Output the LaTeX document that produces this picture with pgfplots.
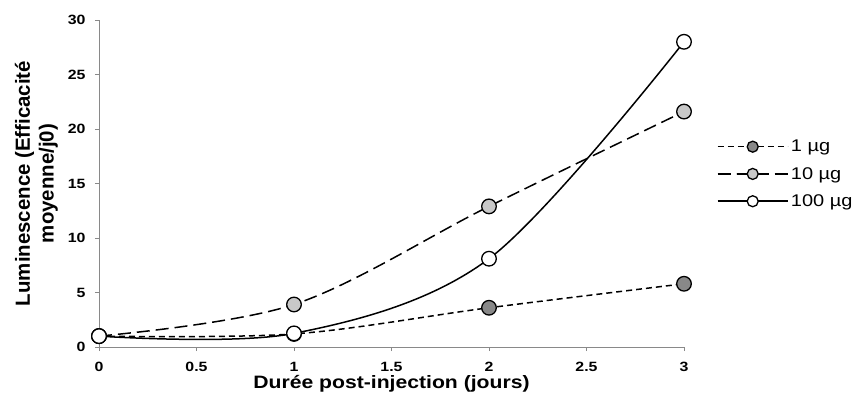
\documentclass[border=0pt]{standalone}
\usepackage{fontspec}
\setmainfont{Liberation Sans}[FakeStretch=1.18]
\newfontfamily\ylabfont{Liberation Sans}
\usepackage{pgfplots}
\pgfplotsset{compat=1.18}
\definecolor{axgray}{HTML}{898989}
\definecolor{fillA}{HTML}{888888}
\definecolor{fillB}{HTML}{C8C8C8}
\begin{document}
\begin{tikzpicture}
\begin{axis}[
  scale only axis, width=585bp, height=327bp,
  xmin=0, xmax=3, ymin=0, ymax=30,
  clip=false,
  axis x line*=bottom, axis y line*=left,
  axis line style={draw=axgray, line width=0.8bp, -},
  xtick={0,0.5,1,1.5,2,2.5,3},
  ytick={0,5,10,15,20,25,30},
  tick align=outside, major tick length=4bp,
  tick style={draw=axgray, line width=0.8bp},
  /pgf/number format/assume math mode=true,
  tick label style={font=\bfseries\fontsize{13.5}{15}\selectfont},
  xticklabel style={yshift=-8bp},
  yticklabel style={xshift=-6bp},
  xlabel={Durée post-injection (jours)},
  xlabel style={font=\bfseries\fontsize{18}{20}\selectfont, at={(axis description cs:0.5,-0.113)}, anchor=center},
  ylabel={Luminescence (Efficacité\\moyenne/j0)},
  ylabel style={font=\ylabfont\bfseries\fontsize{20.5}{24}\selectfont, align=center, at={(axis description cs:-0.107,0.5)}, anchor=center},
  legend style={at={(1.056,0.529)}, anchor=west, draw=none, fill=none,
    font=\fontsize{17}{20}\selectfont, row sep=9bp, inner sep=0pt,
    nodes={inner sep=2.5bp}},
  legend cell align=left,
  legend image code/.code={
    \draw[mark repeat=2,mark phase=2, mark size=5.5bp] plot coordinates {(0bp,0bp) (35bp,0bp) (70bp,0bp)};
  },
  every axis plot/.append style={line width=1.5bp, smooth, tension=0.55},
  mark size=7.3bp,
]
\addplot[black, dash pattern=on 6bp off 4bp, mark=*, mark options={solid, fill=fillA, draw=black, line width=1.3bp}]
  coordinates {(0,1) (1,1.2) (2,3.6) (3,5.8)};
\addlegendentry{1 µg}
\addplot[black, dash pattern=on 13bp off 6bp, mark=*, mark options={solid, fill=fillB, draw=black, line width=1.3bp}]
  coordinates {(0,1) (1,3.9) (2,12.9) (3,21.6)};
\addlegendentry{10 µg}
\addplot[black, solid, mark=*, mark options={solid, fill=white, draw=black, line width=1.3bp}]
  coordinates {(0,1) (1,1.25) (2,8.1) (3,28)};
\addlegendentry{100 µg}
\coordinate (sw) at (rel axis cs:0,0);
\coordinate (ne) at (rel axis cs:1,1);
\end{axis}
\pgfresetboundingbox
\path ([shift={(-99bp,-47bp)}]sw) rectangle ([shift={(174bp,20bp)}]ne);
\end{tikzpicture}
\end{document}
